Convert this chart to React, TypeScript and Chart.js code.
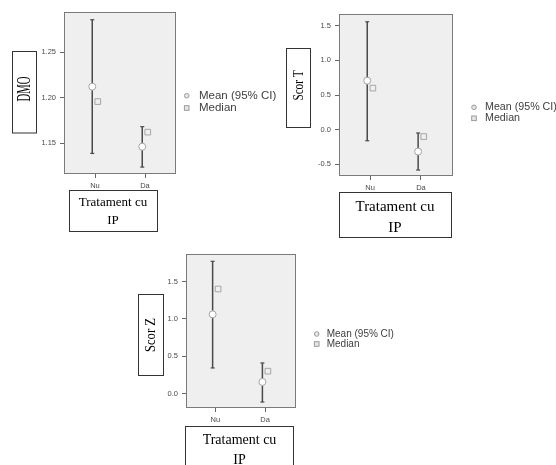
import React, { useEffect, useRef } from "react";
import { Chart, registerables } from "chart.js";

Chart.register(...registerables);

// ---------- data ----------
const categories = ["Nu", "Da"];
const legendLabels = ["Mean (95% CI)", "Median"];
const xTitleLines = ["Tratament cu", "IP"];

const dmoMean = [1.212, 1.146];
const dmoLow = [1.1386, 1.1236];
const dmoHigh = [1.2855, 1.168];
const dmoMedian = [1.1956, 1.162];
const dmoTicks = [1.15, 1.2, 1.25];

const scorTMean = [0.708, -0.316];
const scorTLow = [-0.16, -0.583];
const scorTHigh = [1.558, -0.048];
const scorTMedian = [0.6, -0.1];
const scorTTicks = [-0.5, 0, 0.5, 1.0, 1.5];

const scorZMean = [1.06, 0.156];
const scorZLow = [0.343, -0.113];
const scorZHigh = [1.77, 0.41];
const scorZMedian = [1.4, 0.3];
const scorZTicks = [0, 0.5, 1.0, 1.5];

const W = 556;
const H = 465;
const Y_AXIS_W = 30;
const X_AXIS_H = 16;
const DODGE = 0.055;

type PanelDef = {
  title: string;
  mean: number[];
  low: number[];
  high: number[];
  median: number[];
  ticks: number[];
  decimals: number;
  area: { left: number; top: number; right: number; bottom: number };
  xRange: [number, number];
  yRange: [number, number];
  tickFont: number;
  yTitle: { box: [number, number, number, number]; cx: number; cy: number; font: number; sx: number };
  xTitle: { box: [number, number, number, number]; cx: number; y1: number; y2: number; font: number };
  legend: { x: number; y1: number; y2: number; tx: number; font: number };
};

const panels: PanelDef[] = [
  {
    title: "DMO",
    mean: dmoMean, low: dmoLow, high: dmoHigh, median: dmoMedian, ticks: dmoTicks, decimals: 2,
    area: { left: 64, top: 12, right: 176, bottom: 174 },
    xRange: [-0.62, 1.62],
    yRange: [1.116, 1.294],
    tickFont: 7.5,
    yTitle: { box: [12.5, 51.5, 24, 81.5], cx: 25.5, cy: 89, font: 18.5, sx: 0.58 },
    xTitle: { box: [69.5, 190.5, 88, 41], cx: 113, y1: 203, y2: 221, font: 13 },
    legend: { x: 186.7, y1: 95.7, y2: 108, tx: 199, font: 11.5 },
  },
  {
    title: "Scor T",
    mean: scorTMean, low: scorTLow, high: scorTHigh, median: scorTMedian, ticks: scorTTicks, decimals: 1,
    area: { left: 339, top: 14, right: 453, bottom: 176 },
    xRange: [-0.61, 1.63],
    yRange: [-0.669, 1.67],
    tickFont: 7.5,
    yTitle: { box: [286.5, 48.5, 24, 79], cx: 299, cy: 85.5, font: 14, sx: 0.8 },
    xTitle: { box: [339.5, 192.5, 112, 45], cx: 395, y1: 207, y2: 228, font: 15 },
    legend: { x: 474, y1: 107.3, y2: 118.3, tx: 485, font: 10.7 },
  },
  {
    title: "Scor Z",
    mean: scorZMean, low: scorZLow, high: scorZHigh, median: scorZMedian, ticks: scorZTicks, decimals: 1,
    area: { left: 186, top: 254, right: 296, bottom: 408 },
    xRange: [-0.59, 1.62],
    yRange: [-0.193, 1.868],
    tickFont: 7.5,
    yTitle: { box: [138.5, 294.5, 25, 81], cx: 151, cy: 335, font: 15.5, sx: 0.82 },
    xTitle: { box: [185.5, 426.5, 108, 60], cx: 239.5, y1: 440.7, y2: 460.7, font: 14 },
    legend: { x: 316.7, y1: 334, y2: 344, tx: 326.7, font: 10 },
  },
];

function makeDecorPlugin(p: PanelDef) {
  return {
    id: "decor",
    beforeDraw(chart: any) {
      const { ctx, chartArea } = chart;
      ctx.save();
      ctx.fillStyle = "#efefef";
      ctx.fillRect(chartArea.left, chartArea.top, chartArea.right - chartArea.left, chartArea.bottom - chartArea.top);
      ctx.restore();
    },
    afterDraw(chart: any) {
      const { ctx, chartArea } = chart;
      ctx.save();
      // plot frame
      ctx.strokeStyle = "#7a7a7a";
      ctx.lineWidth = 1;
      ctx.strokeRect(
        Math.round(chartArea.left) + 0.5,
        Math.round(chartArea.top) + 0.5,
        Math.round(chartArea.right - chartArea.left) - 1,
        Math.round(chartArea.bottom - chartArea.top) - 1
      );

      // y title box
      ctx.strokeStyle = "#333333";
      ctx.lineWidth = 1;
      const yb = p.yTitle.box;
      ctx.strokeRect(yb[0], yb[1], yb[2], yb[3]);
      ctx.save();
      ctx.translate(p.yTitle.cx, p.yTitle.cy);
      ctx.rotate(-Math.PI / 2);
      ctx.scale(p.yTitle.sx, 1);
      ctx.fillStyle = "#000000";
      ctx.font = `${p.yTitle.font}px "Liberation Serif", "Times New Roman", serif`;
      ctx.textAlign = "center";
      ctx.textBaseline = "middle";
      ctx.fillText(p.title, 0, 0);
      ctx.restore();

      // x title box
      const xb = p.xTitle.box;
      ctx.strokeRect(xb[0], xb[1], xb[2], xb[3]);
      ctx.fillStyle = "#000000";
      ctx.font = `${p.xTitle.font}px "Liberation Serif", "Times New Roman", serif`;
      ctx.textAlign = "center";
      ctx.textBaseline = "middle";
      ctx.fillText(xTitleLines[0], p.xTitle.cx, p.xTitle.y1);
      ctx.fillText(xTitleLines[1], p.xTitle.cx, p.xTitle.y2);

      // legend
      const lg = p.legend;
      ctx.lineWidth = 1;
      ctx.strokeStyle = "#9a9a9a";
      ctx.fillStyle = "#e6e6e6";
      ctx.beginPath();
      ctx.arc(lg.x, lg.y1, 2.3, 0, Math.PI * 2);
      ctx.fill();
      ctx.stroke();
      ctx.fillRect(lg.x - 2.3, lg.y2 - 2.3, 4.6, 4.6);
      ctx.strokeRect(lg.x - 2.3, lg.y2 - 2.3, 4.6, 4.6);
      ctx.fillStyle = "#404040";
      ctx.font = `${lg.font}px "Liberation Sans", Arial, sans-serif`;
      ctx.textAlign = "left";
      ctx.textBaseline = "middle";
      ctx.fillText(legendLabels[0], lg.tx, lg.y1);
      ctx.fillText(legendLabels[1], lg.tx, lg.y2);
      ctx.restore();
    },
  };
}

function Panel({ p }: { p: PanelDef }) {
  const ref = useRef<HTMLCanvasElement | null>(null);
  useEffect(() => {
    if (!ref.current) return;
    const datasets: any[] = [
      {
        label: legendLabels[0],
        data: p.mean.map((v, i) => ({ x: i - DODGE, y: v })),
        pointStyle: "circle",
        pointRadius: 3.5,
        pointBackgroundColor: "#ffffff",
        pointBorderColor: "#a5a5a5",
        pointBorderWidth: 1,
        showLine: false,
      },
      {
        label: legendLabels[1],
        data: p.median.map((v, i) => ({ x: i + DODGE, y: v })),
        pointStyle: "rect",
        pointRadius: 4,
        pointBackgroundColor: "#efefef",
        pointBorderColor: "#a5a5a5",
        pointBorderWidth: 1,
        showLine: false,
      },
      ...categories.map((c, i) => ({
        label: "CI " + c,
        data: [
          { x: i - DODGE, y: p.low[i] },
          { x: i - DODGE, y: p.high[i] },
        ],
        showLine: true,
        borderColor: "#4a4a4a",
        borderWidth: 1.5,
        pointStyle: "line",
        pointRadius: 2,
        pointBorderColor: "#4a4a4a",
        pointBorderWidth: 1.2,
      })),
    ];
    const tickFont = { size: p.tickFont, family: '"Liberation Sans", Arial, sans-serif' };
    const chart = new Chart(ref.current, {
      type: "scatter",
      data: { datasets },
      options: {
        responsive: false,
        animation: false,
        events: [],
        layout: {
          padding: {
            left: p.area.left - Y_AXIS_W,
            top: p.area.top,
            right: W - p.area.right,
            bottom: H - p.area.bottom - X_AXIS_H,
          },
        },
        plugins: { legend: { display: false }, tooltip: { enabled: false } },
        scales: {
          x: {
            type: "linear",
            min: p.xRange[0],
            max: p.xRange[1],
            afterBuildTicks: (s: any) => {
              s.ticks = categories.map((_, i) => ({ value: i }));
            },
            afterFit: (s: any) => {
              s.height = X_AXIS_H;
            },
            ticks: {
              callback: (v: any) => categories[v as number] ?? "",
              font: tickFont,
              color: "#4a4a4a",
              padding: 3,
              maxRotation: 0,
              autoSkip: false,
            },
            grid: { display: true, drawOnChartArea: false, drawTicks: true, tickLength: 4, color: "#666666" },
            border: { display: false },
          },
          y: {
            type: "linear",
            min: p.yRange[0],
            max: p.yRange[1],
            afterBuildTicks: (s: any) => {
              s.ticks = p.ticks.map((v) => ({ value: v }));
            },
            afterFit: (s: any) => {
              s.width = Y_AXIS_W;
            },
            ticks: {
              callback: (v: any) => Number(v).toFixed(p.decimals),
              font: tickFont,
              color: "#4a4a4a",
              padding: 4,
              autoSkip: false,
            },
            grid: { display: true, drawOnChartArea: false, drawTicks: true, tickLength: 4, color: "#666666" },
            border: { display: false },
          },
        },
      },
      plugins: [makeDecorPlugin(p)],
    } as any);
    return () => chart.destroy();
  }, [p]);
  return (
    <canvas
      ref={ref}
      width={W}
      height={H}
      style={{ position: "absolute", left: 0, top: 0, width: W, height: H }}
    />
  );
}

export default function App() {
  return (
    <div style={{ position: "fixed", left: 0, top: 0, width: W, height: H, background: "#ffffff", overflow: "hidden" }}>
      {panels.map((p) => (
        <Panel key={p.title} p={p} />
      ))}
    </div>
  );
}
